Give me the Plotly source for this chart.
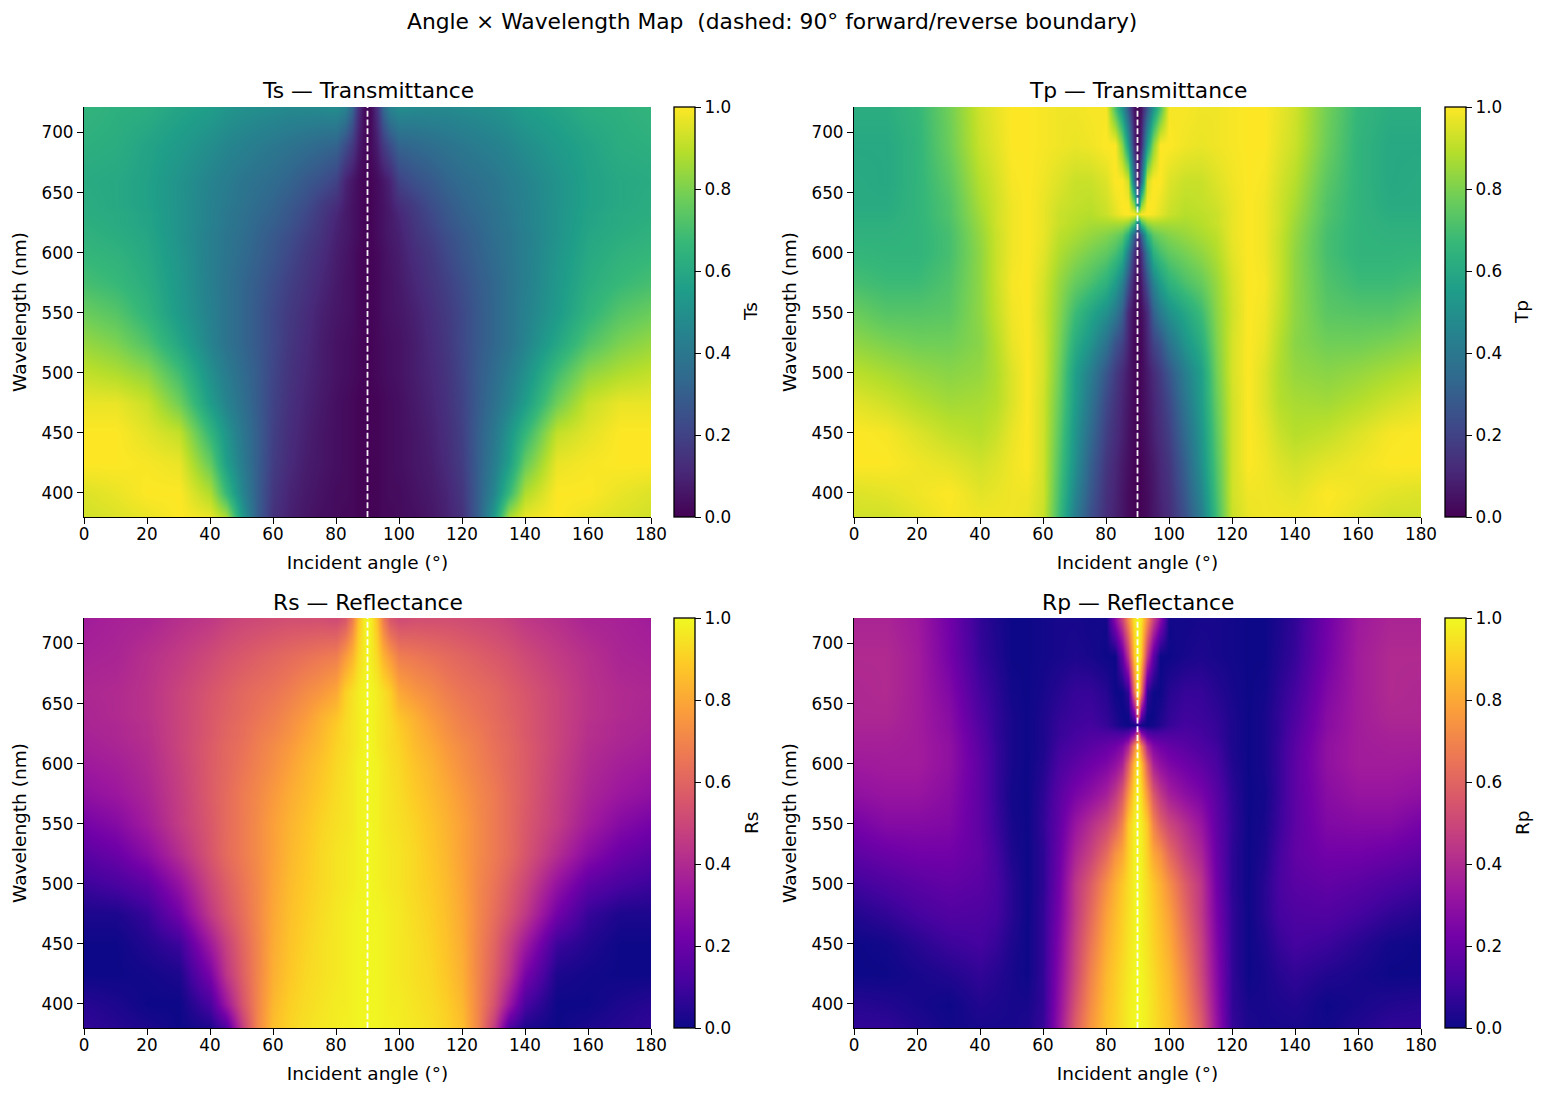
import numpy as np
import plotly.graph_objects as go

# Incident angles up to 90 degrees (the far half mirrors about the boundary)
angles_half = [0, 10, 20, 30, 40, 45, 50, 55, 60, 65, 70, 75, 80, 83, 85, 87, 89, 90]
wavelengths = [380, 400, 425, 450, 475, 500, 525, 550, 575, 600, 615, 625, 632, 640, 660, 690, 720]

# Transmittance, one row per wavelength, one column per angle
ts_half = [
    [.93, .95, .97, 1.0, .97, .87, .54, .30, .14, .09, .06, .04, .03, .02, .02, .01, .01, .00],
    [.95, .97, 1.0, 1.0, .88, .67, .46, .30, .16, .10, .07, .05, .03, .03, .02, .01, .01, .00],
    [1.0, 1.0, .99, .97, .76, .56, .42, .30, .18, .12, .08, .06, .04, .03, .02, .01, .01, .00],
    [1.0, 1.0, .96, .91, .66, .52, .40, .30, .19, .13, .09, .06, .04, .03, .02, .01, .01, .00],
    [.97, .97, .92, .78, .55, .45, .37, .29, .20, .14, .10, .07, .04, .03, .02, .01, .01, .00],
    [.91, .88, .83, .69, .50, .42, .35, .29, .21, .15, .11, .08, .05, .04, .03, .02, .01, .00],
    [.84, .80, .72, .59, .45, .38, .33, .28, .22, .16, .12, .08, .05, .04, .03, .02, .01, .00],
    [.77, .73, .65, .54, .44, .38, .33, .28, .22, .17, .13, .09, .06, .05, .04, .02, .01, .01],
    [.70, .67, .62, .53, .43, .38, .33, .29, .24, .19, .15, .11, .07, .05, .04, .02, .01, .01],
    [.66, .64, .60, .52, .43, .39, .35, .31, .27, .22, .17, .13, .08, .06, .04, .02, .01, .01],
    [.64, .62, .59, .51, .43, .39, .36, .32, .28, .24, .19, .15, .09, .07, .05, .03, .01, .01],
    [.63, .61, .58, .51, .44, .40, .37, .33, .30, .26, .21, .16, .10, .07, .05, .03, .01, .01],
    [.62, .61, .58, .51, .44, .40, .37, .34, .31, .27, .22, .17, .11, .07, .05, .03, .01, .01],
    [.62, .60, .57, .51, .44, .41, .38, .35, .32, .28, .24, .18, .13, .08, .05, .03, .01, .01],
    [.61, .60, .57, .51, .45, .42, .39, .37, .35, .32, .28, .25, .20, .10, .06, .03, .01, .01],
    [.63, .62, .58, .54, .49, .46, .44, .42, .40, .38, .36, .34, .32, .24, .17, .08, .03, .01],
    [.65, .63, .62, .58, .55, .52, .50, .49, .48, .47, .47, .47, .48, .44, .32, .14, .03, .01],
]
tp_half = [
    [.93, .93, .96, .99, .98, .98, .98, .97, .92, .68, .42, .25, .13, .09, .06, .03, .01, .00],
    [.95, .96, .98, 1.0, .96, .97, .98, .98, .93, .70, .46, .28, .14, .10, .06, .03, .01, .00],
    [1.0, 1.0, .98, .96, .93, .95, .98, 1.0, .93, .72, .50, .31, .16, .11, .07, .04, .01, .00],
    [1.0, .99, .95, .91, .89, .92, .97, 1.0, .93, .74, .52, .35, .19, .13, .09, .05, .02, .00],
    [.96, .93, .89, .86, .87, .89, .95, 1.0, .93, .76, .55, .39, .22, .15, .10, .06, .02, .00],
    [.90, .87, .84, .82, .84, .88, .95, 1.0, .94, .78, .56, .43, .27, .18, .12, .07, .02, .00],
    [.83, .80, .78, .78, .82, .89, .97, 1.0, .94, .80, .62, .52, .38, .26, .20, .10, .02, .01],
    [.77, .73, .73, .74, .83, .91, .98, 1.0, .93, .82, .68, .59, .50, .41, .30, .12, .03, .01],
    [.70, .68, .68, .72, .83, .92, .99, 1.0, .94, .84, .76, .71, .64, .55, .44, .25, .07, .02],
    [.66, .65, .65, .70, .83, .92, .98, 1.0, .96, .88, .83, .79, .75, .70, .63, .42, .14, .03],
    [.64, .64, .65, .70, .84, .92, .98, 1.0, .97, .90, .87, .84, .81, .78, .74, .62, .30, .10],
    [.63, .63, .65, .71, .85, .93, .98, 1.0, .97, .92, .89, .87, .87, .87, .87, .84, .70, .40],
    [.62, .62, .65, .72, .86, .93, .98, 1.0, .97, .92, .90, .89, .92, .96, .99, 1.0, .99, .96],
    [.61, .61, .65, .72, .87, .93, .98, 1.0, .97, .93, .91, .90, .93, .97, 1.0, 1.0, .82, .40],
    [.61, .60, .65, .74, .89, .94, .99, 1.0, .98, .95, .92, .92, .95, 1.0, 1.0, .93, .35, .02],
    [.60, .60, .65, .77, .92, .96, 1.0, 1.0, .99, .98, .97, .98, 1.0, 1.0, .82, .55, .12, .01],
    [.62, .62, .66, .78, .93, .97, 1.0, 1.0, .99, .98, .98, .99, .99, .72, .52, .28, .05, .01],
]

panel_titles = ["Ts — Transmittance", "Tp — Transmittance", "Rs — Reflectance", "Rp — Reflectance"]
bar_titles = ["Ts", "Tp", "Rs", "Rp"]
figure_title = "Angle × Wavelength Map  (dashed: 90° forward/reverse boundary)"
boundary_angle = 90

TEXT = "#000000"
FONT = "DejaVu Sans"
TICK_SIZE = 16.8
LABEL_SIZE = 18.5
TITLE_SIZE = 21.8
WIDTH, HEIGHT = 1542, 1094


def mirrored(half):
    rows = np.array(half)
    return np.hstack([rows, rows[:, -2::-1]])


angles = angles_half + [180 - a for a in angles_half[-2::-1]]
ts = mirrored(ts_half)
tp = mirrored(tp_half)
# The films are lossless, so reflectance is the complement of transmittance
maps = [ts, tp, 1 - ts, 1 - tp]
scales = ["Viridis", "Viridis", "Plasma", "Plasma"]

# Pixel boxes of the four plot areas: left, right, top, bottom
boxes = [(84, 651, 107, 517), (854, 1421, 107, 517), (84, 651, 618, 1028), (854, 1421, 618, 1028)]

fig = go.Figure()
for i, (z, scale, box) in enumerate(zip(maps, scales, boxes)):
    left, right, top, bottom = box
    suffix = "" if i == 0 else str(i + 1)
    bar_left = right + (23 if i % 2 == 0 else 24)
    fig.add_trace(go.Heatmap(
        x=angles, y=wavelengths, z=z, zmin=0, zmax=1, zsmooth="best",
        colorscale=scale, xaxis="x" + suffix, yaxis="y" + suffix, hoverinfo="skip",
        colorbar=dict(
            x=bar_left / WIDTH, xanchor="left", xpad=0,
            y=1 - bottom / HEIGHT, yanchor="bottom", ypad=0,
            len=(bottom - top) / HEIGHT, lenmode="fraction",
            thickness=21, thicknessmode="pixels",
            outlinecolor=TEXT, outlinewidth=1.3,
            tick0=0, dtick=0.2, tickformat=".1f",
            ticks="outside", ticklen=6, tickwidth=1.3, tickcolor=TEXT,
            tickfont=dict(family=FONT, size=TICK_SIZE, color=TEXT),
        ),
    ))
    fig.add_trace(go.Scatter(
        x=[boundary_angle, boundary_angle], y=[wavelengths[0], 721.3],
        mode="lines", line=dict(color="rgba(255,255,255,0.95)", width=1.8, dash="6px,2.7px"),
        xaxis="x" + suffix, yaxis="y" + suffix, hoverinfo="skip", showlegend=False,
    ))
    common = dict(showgrid=False, zeroline=False, showline=True, linecolor=TEXT, linewidth=1.3,
                  ticks="outside", ticklen=6, tickwidth=1.3, tickcolor=TEXT,
                  tickfont=dict(family=FONT, size=TICK_SIZE, color=TEXT))
    fig.update_layout({
        "xaxis" + suffix: dict(
            domain=[left / WIDTH, right / WIDTH], range=[0, 180], tick0=0, dtick=20,
            anchor="y" + suffix, ticklabelstandoff=-4,
            title=dict(text="Incident angle (°)", standoff=12, font=dict(family=FONT, size=LABEL_SIZE, color=TEXT)),
            **common),
        "yaxis" + suffix: dict(
            domain=[1 - bottom / HEIGHT, 1 - top / HEIGHT], range=[380, 721.3], tick0=400, dtick=50,
            anchor="x" + suffix,
            title=dict(text="Wavelength (nm)", standoff=9, font=dict(family=FONT, size=LABEL_SIZE, color=TEXT)),
            **common),
    })
    fig.add_annotation(
        text=panel_titles[i], x=(left + right) / 2 / WIDTH, y=1 - (top - 16) / HEIGHT,
        xref="paper", yref="paper", xanchor="center", yanchor="middle", showarrow=False,
        font=dict(family=FONT, size=TITLE_SIZE, color=TEXT),
    )
    # Colour bar caption, set beside the tick labels
    fig.add_annotation(
        text=bar_titles[i], x=(bar_left + 77) / WIDTH, y=1 - (top + bottom) / 2 / HEIGHT,
        xref="paper", yref="paper", xanchor="center", yanchor="middle", showarrow=False,
        textangle=-90, font=dict(family=FONT, size=LABEL_SIZE, color=TEXT),
    )

fig.add_annotation(
    text=figure_title, x=772 / WIDTH, y=1 - 21 / HEIGHT, xref="paper", yref="paper",
    xanchor="center", yanchor="middle", showarrow=False,
    font=dict(family=FONT, size=TITLE_SIZE, color=TEXT),
)
fig.update_layout(
    width=WIDTH, height=HEIGHT, autosize=False,
    margin=dict(l=0, r=0, t=0, b=0, autoexpand=False),
    paper_bgcolor="white", plot_bgcolor="white", showlegend=False,
)
fig.write_html("out.html")
